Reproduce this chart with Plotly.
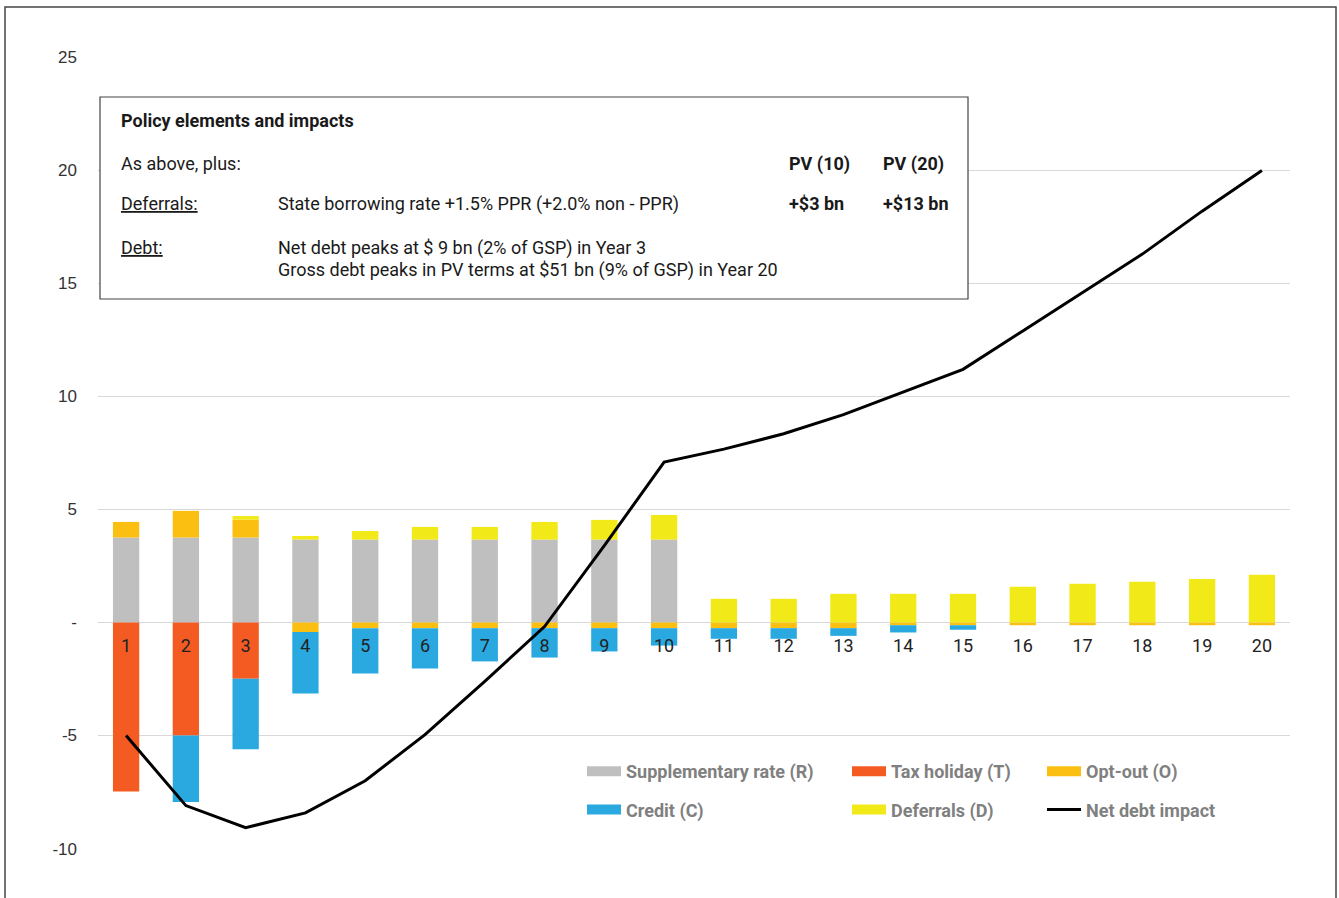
import plotly.graph_objects as go

years = list(range(1, 21))
year_labels = [str(y) for y in years]

supp_rate = [3.76, 3.76, 3.76, 3.67, 3.67, 3.67, 3.67, 3.67, 3.67, 3.67,
             0, 0, 0, 0, 0, 0, 0, 0, 0, 0]
tax_holiday = [-7.48, -5.0, -2.49, 0, 0, 0, 0, 0, 0, 0,
               0, 0, 0, 0, 0, 0, 0, 0, 0, 0]
opt_out = [0.69, 1.18, 0.79, -0.42, -0.25, -0.25, -0.25, -0.25, -0.25, -0.25,
           -0.25, -0.25, -0.25, -0.12, -0.12, -0.12, -0.12, -0.12, -0.12, -0.12]
credit = [0, -2.94, -3.12, -2.72, -2.0, -1.78, -1.47, -1.30, -1.03, -0.77,
          -0.47, -0.47, -0.34, -0.32, -0.20, 0, 0, 0, 0, 0]
deferrals = [0, 0, 0.16, 0.16, 0.38, 0.56, 0.56, 0.78, 0.87, 1.09,
             1.05, 1.05, 1.27, 1.27, 1.27, 1.58, 1.71, 1.80, 1.93, 2.11]
net_debt = [-5.0, -8.1, -9.08, -8.42, -7.0, -4.96, -2.6, -0.18, 3.4, 7.1,
            7.67, 8.35, 9.2, 10.2, 11.2, 12.9, 14.6, 16.3, 18.2, 20.0]

y_tickvals = [-10, -5, 0, 5, 10, 15, 20, 25]
y_ticktext = ["-10", "-5", "-", "5", "10", "15", "20", "25"]

C_R = "#bfbfbf"
C_T = "#f35b22"
C_O = "#fbbf12"
C_C = "#29a9e0"
C_D = "#f2e918"

# plot area in page pixels (body margin removed in the page)
L, R, T, B = 98, 1290, 57, 849
W, H = 1339, 898
YMIN, YMAX = -10.02, 25.02


def px(x):
    return (x - L) / (R - L)


def py(y):
    return (B - y) / (B - T)


fig = go.Figure()

series = [
    ("Supplementary rate (R)", supp_rate, C_R, "legend"),
    ("Tax holiday (T)", tax_holiday, C_T, "legend2"),
    ("Opt-out (O)", opt_out, C_O, "legend3"),
    ("Credit (C)", credit, C_C, "legend"),
    ("Deferrals (D)", deferrals, C_D, "legend2"),
]

for name, vals, col, lg in series:
    fig.add_trace(go.Bar(x=years, y=vals, name=name, marker=dict(color=col, line=dict(width=0)),
                         showlegend=False))

# legend entries (wide swatches)
for name, vals, col, lg in series:
    fig.add_trace(go.Scatter(x=[None], y=[None], mode="lines", name=name,
                             line=dict(color=col, width=10), legend=lg,
                             legendgroup=name, showlegend=True))

fig.add_trace(go.Scatter(x=years, y=net_debt, mode="lines", name="Net debt impact",
                         line=dict(color="#000000", width=3), legend="legend3",
                         legendgroup="net"))

legend_common = dict(
    font=dict(family="Roboto", size=18, color="#808080", weight="bold"),
    bgcolor="rgba(0,0,0,0)", borderwidth=0, itemwidth=34,
    tracegroupgap=12, yanchor="top", xanchor="left", orientation="v",
    itemclick=False,
)
leg_y = py(753)
fig.update_layout(
    legend=dict(x=px(582), y=leg_y, **legend_common),
    legend2=dict(x=px(847), y=leg_y, **legend_common),
    legend3=dict(x=px(1042), y=leg_y, **legend_common),
)

fig.update_layout(
    width=W, height=H,
    margin=dict(l=L, r=W - R, t=T, b=H - B, pad=0),
    paper_bgcolor="white", plot_bgcolor="white",
    barmode="relative", bargap=0.56,
    font=dict(family="Roboto", color="#222222"),
    xaxis=dict(
        range=[0.53, 20.47], tickvals=years, ticktext=year_labels,
        showgrid=False, zeroline=False, showline=False, ticks="",
        anchor="free", position=(0 - YMIN) / (YMAX - YMIN),
        tickfont=dict(family="Roboto", size=18, color="#222222"),
        ticklabelstandoff=10,
    ),
    yaxis=dict(
        range=[YMIN, YMAX], tickvals=y_tickvals, ticktext=y_ticktext,
        showgrid=True, gridcolor="#d9d9d9", gridwidth=1, zeroline=False,
        showline=False, ticks="",
        tickfont=dict(family="Liberation Sans", size=17, color="#333333"),
        ticklabelstandoff=20,
    ),
)

# outer frame
fig.add_shape(type="rect", xref="paper", yref="paper",
              x0=px(5), x1=px(1336), y0=py(930), y1=py(7),
              line=dict(color="#444444", width=1.5), fillcolor="rgba(0,0,0,0)", layer="above")

# info box
fig.add_shape(type="rect", xref="paper", yref="paper",
              x0=px(100), x1=px(968), y0=py(299), y1=py(97),
              line=dict(color="#444444", width=1.2), fillcolor="white", layer="above")

box_texts = [
    (121, 121, "<b>Policy elements and impacts</b>"),
    (121, 164, "As above, plus:"),
    (789, 164, "<b>PV (10)</b>"),
    (883, 164, "<b>PV (20)</b>"),
    (121, 204, "<u>Deferrals:</u>"),
    (278, 204, "State borrowing rate +1.5% PPR (+2.0% non - PPR)"),
    (789, 204, "<b>+$3 bn</b>"),
    (883, 204, "<b>+$13 bn</b>"),
    (121, 248, "<u>Debt:</u>"),
    (278, 248, "Net debt peaks at $ 9 bn (2% of GSP) in Year 3"),
    (278, 270, "Gross debt peaks in PV terms at $51 bn (9% of GSP) in Year 20"),
]
for x, y, t in box_texts:
    fig.add_annotation(x=px(x - 2), y=py(y), xref="paper", yref="paper", text=t,
                       showarrow=False, xanchor="left", yanchor="middle",
                       font=dict(family="Roboto", size=18, color="#1a1a1a"))

fig.write_html(
    "out.html",
    config={"displayModeBar": False},
    post_script="document.body.style.margin='0';document.body.style.overflow='hidden';",
)
